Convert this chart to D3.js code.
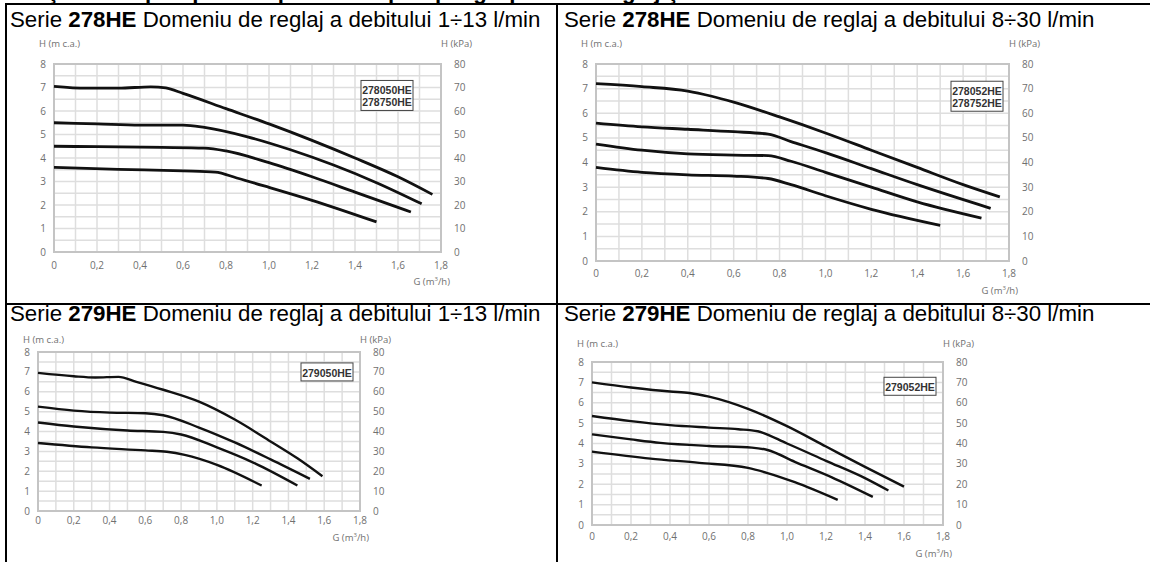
<!DOCTYPE html>
<html>
<head>
<meta charset="utf-8">
<script src="https://cdn.jsdelivr.net/npm/d3@7"></script>
<style>
  body { margin: 0; background: #fff; }
  svg { display: block; }
  .tick { font-family: "Open Sans", sans-serif; font-size: 10px; fill: #707070; }
  .unit { font-family: "Open Sans", sans-serif; font-size: 9.5px; fill: #707070; }
  .title { font-family: "Liberation Sans", Arial, sans-serif; font-size: 22.3px; fill: #000; }
  .model { font-family: "Liberation Sans Narrow", "Liberation Sans", sans-serif; font-size: 10.5px; font-weight: bold; fill: #333; }
</style>
</head>
<body>
<div id="chart"></div>
<script>
(function () {

  const width = 1150
  const height = 562

  // axis ticks
  const flowTicks = [0, 0.2, 0.4, 0.6, 0.8, 1.0, 1.2, 1.4, 1.6, 1.8]
  const headTicks = [0, 1, 2, 3, 4, 5, 6, 7, 8]
  const kpaTicks = [0, 10, 20, 30, 40, 50, 60, 70, 80]

  // cell titles
  const seriesNames = ["278HE", "278HE", "279HE", "279HE"]
  const flowRanges = ["1÷13", "8÷30", "1÷13", "8÷30"]

  // model boxes
  const models278050 = ["278050HE", "278750HE"]
  const models278052 = ["278052HE", "278752HE"]
  const models279050 = ["279050HE"]
  const models279052 = ["279052HE"]

  // pump curves, [G m3/h, H m c.a.], highest speed first
  const curves278050 = [
    [[0,7.05],[0.15,6.97],[0.3,6.97],[0.45,7.03],[0.52,6.98],[0.6,6.75],[0.8,6.1],[1.0,5.45],[1.2,4.75],[1.4,4.0],[1.6,3.2],[1.76,2.45]],
    [[0,5.5],[0.2,5.45],[0.4,5.4],[0.6,5.4],[0.7,5.3],[0.9,4.9],[1.1,4.35],[1.3,3.7],[1.5,2.95],[1.71,2.05]],
    [[0,4.5],[0.2,4.48],[0.5,4.45],[0.7,4.42],[0.8,4.3],[1.0,3.8],[1.2,3.2],[1.4,2.55],[1.66,1.7]],
    [[0,3.6],[0.3,3.52],[0.6,3.45],[0.75,3.4],[0.85,3.15],[1.0,2.75],[1.2,2.2],[1.5,1.28]]
  ]
  const curves278052 = [
    [[0,7.2],[0.2,7.08],[0.4,6.9],[0.5,6.7],[0.6,6.45],[0.8,5.85],[1.0,5.2],[1.2,4.5],[1.4,3.8],[1.6,3.1],[1.76,2.6]],
    [[0,5.6],[0.2,5.45],[0.4,5.35],[0.6,5.25],[0.75,5.15],[0.85,4.85],[1.0,4.4],[1.2,3.75],[1.4,3.1],[1.72,2.14]],
    [[0,4.75],[0.2,4.5],[0.4,4.35],[0.6,4.3],[0.75,4.28],[0.85,4.05],[1.0,3.6],[1.2,3.0],[1.4,2.4],[1.68,1.74]],
    [[0,3.8],[0.2,3.6],[0.4,3.5],[0.6,3.45],[0.75,3.35],[0.85,3.1],[1.0,2.65],[1.2,2.1],[1.5,1.45]]
  ]
  const curves279050 = [
    [[0,6.95],[0.2,6.78],[0.32,6.72],[0.45,6.75],[0.55,6.5],[0.7,6.1],[0.9,5.5],[1.1,4.6],[1.3,3.5],[1.45,2.65],[1.59,1.75]],
    [[0,5.25],[0.2,5.05],[0.4,4.95],[0.6,4.92],[0.7,4.82],[0.9,4.2],[1.1,3.45],[1.3,2.6],[1.52,1.62]],
    [[0,4.45],[0.2,4.25],[0.5,4.05],[0.7,3.98],[0.8,3.85],[1.0,3.2],[1.2,2.45],[1.45,1.28]],
    [[0,3.42],[0.3,3.2],[0.6,3.05],[0.72,2.98],[0.82,2.82],[1.0,2.32],[1.25,1.28]]
  ]
  const curves279052 = [
    [[0,7.0],[0.2,6.75],[0.4,6.55],[0.5,6.48],[0.6,6.3],[0.8,5.7],[1.0,4.85],[1.2,3.85],[1.4,2.85],[1.6,1.88]],
    [[0,5.35],[0.2,5.1],[0.4,4.9],[0.6,4.78],[0.75,4.7],[0.85,4.6],[1.0,4.0],[1.2,3.15],[1.4,2.3],[1.52,1.69]],
    [[0,4.45],[0.2,4.2],[0.35,4.03],[0.6,3.88],[0.82,3.8],[0.9,3.68],[1.04,3.1],[1.23,2.34],[1.44,1.38]],
    [[0,3.6],[0.3,3.26],[0.55,3.05],[0.8,2.8],[0.9,2.55],[1.04,2.1],[1.26,1.23]]
  ]

  // panel placement
  const panels = [
    { curves: curves278050, models: models278050, x0: 54, x1: 441, y0: 64, y1: 252, lw: 2.8, inset: 28, box: 7.3,
      hOff: 17, xlOff: 17, gOff: 33, tx: 10, ty: 27 },
    { curves: curves278052, models: models278052, x0: 596, x1: 1009, y0: 64, y1: 261, lw: 2.8, inset: 6, box: 7.3,
      hOff: 17, xlOff: 16, gOff: 33, tx: 564, ty: 27 },
    { curves: curves279050, models: models279050, x0: 38, x1: 360, y0: 352, y1: 511, lw: 2.4, inset: 7, box: 7.45,
      hOff: 9, xlOff: 13, gOff: 30, tx: 10, ty: 321 },
    { curves: curves279052, models: models279052, x0: 592, x1: 943, y0: 362, y1: 525, lw: 2.4, inset: 7, box: 7.25,
      hOff: 15, xlOff: 15, gOff: 32, tx: 564, ty: 321 }
  ]

  const svg = d3.select("#chart").append("svg")
      .attr("width", width)
      .attr("height", height)

  // heading of the page above, cut off by the window
  svg.append("text")
      .attr("class", "title")
      .attr("x", 10)
      .attr("y", -1)
      .style("font-weight", "bold")
      .text("Înălţimea de pompare disponibilă a pompei grupului de reglaj şi amestec")

  panels.forEach((p, i) => {
    const x = d3.scaleLinear().domain([0, 1.8]).range([p.x0, p.x1])
    const y = d3.scaleLinear().domain([0, 8]).range([p.y1, p.y0])
    const yk = d3.scaleLinear().domain([0, 80]).range([p.y1, p.y0])
    const g = svg.append("g")

    // title
    const t = g.append("text").attr("class", "title").attr("x", p.tx).attr("y", p.ty)
    t.append("tspan").text("Serie ")
    t.append("tspan").style("font-weight", "bold").text(seriesNames[i])
    t.append("tspan").text(" Domeniu de reglaj a debitului " + flowRanges[i] + " l/min")

    // grid
    g.selectAll(".vg").data(x.ticks(18).slice(1, -1))
      .join("line")
      .attr("x1", d => x(d)).attr("x2", d => x(d))
      .attr("y1", p.y0).attr("y2", p.y1)
      .attr("stroke", "#dedede").attr("stroke-width", 1.5)
    g.selectAll(".hg").data(y.ticks(16).slice(1, -1))
      .join("line")
      .attr("x1", p.x0).attr("x2", p.x1)
      .attr("y1", d => y(d)).attr("y2", d => y(d))
      .attr("stroke", "#dedede").attr("stroke-width", 1.5)
    g.append("rect")
      .attr("x", p.x0).attr("y", p.y0)
      .attr("width", p.x1 - p.x0).attr("height", p.y1 - p.y0)
      .attr("fill", "none").attr("stroke", "#c4c4c4").attr("stroke-width", 2)

    // tick labels
    g.selectAll(".yl").data(headTicks)
      .join("text").attr("class", "tick")
      .attr("x", p.x0 - 8).attr("y", d => y(d)).attr("dy", "0.35em")
      .attr("text-anchor", "end")
      .text(d => d)
    g.selectAll(".kl").data(kpaTicks)
      .join("text").attr("class", "tick")
      .attr("x", p.x1 + 13).attr("y", d => yk(d)).attr("dy", "0.35em")
      .text(d => d)
    g.selectAll(".xl").data(flowTicks)
      .join("text").attr("class", "tick")
      .attr("x", d => x(d)).attr("y", p.y1 + p.xlOff)
      .attr("text-anchor", "middle")
      .text(d => d3.format(d === 0 ? "" : ".1f")(d).replace(".", ","))

    // unit labels
    g.append("text").attr("class", "unit")
      .attr("x", p.x0 - 15).attr("y", p.y0 - p.hOff)
      .text("H (m c.a.)")
    g.append("text").attr("class", "unit")
      .attr("x", p.x1 + 31).attr("y", p.y0 - p.hOff)
      .attr("text-anchor", "end")
      .text("H (kPa)")
    const gl = g.append("text").attr("class", "unit")
      .attr("x", p.x1 + 9).attr("y", p.y1 + p.gOff)
      .attr("text-anchor", "end")
    gl.append("tspan").text("G (m")
    gl.append("tspan").attr("dy", -4).style("font-size", "6px").text("3")
    gl.append("tspan").attr("dy", 4).text("/h)")

    // curves
    const line = d3.line()
      .x(d => x(d[0]))
      .y(d => y(d[1]))
      .curve(d3.curveMonotoneX)
    g.selectAll(".curve").data(p.curves)
      .join("path")
      .attr("d", line)
      .attr("fill", "none")
      .attr("stroke", "#111")
      .attr("stroke-width", p.lw)

    // model box
    const bw = 52
    const bh = 6 + 12 * p.models.length
    const bx = p.x1 - p.inset - bw
    const by = y(p.box)
    g.append("rect")
      .attr("x", bx).attr("y", by)
      .attr("width", bw).attr("height", bh)
      .attr("fill", "#fff").attr("stroke", "#444").attr("stroke-width", 1)
    g.selectAll(".model").data(p.models)
      .join("text").attr("class", "model")
      .attr("x", bx + bw / 2).attr("y", (d, j) => by + 14 + j * 12)
      .attr("text-anchor", "middle")
      .text(d => d)
  })

  // table borders
  const border = svg.append("g").attr("stroke", "#000").attr("stroke-width", 2)
  border.append("line").attr("x1", 6).attr("x2", width).attr("y1", 4).attr("y2", 4)
  border.append("line").attr("x1", 6).attr("x2", width).attr("y1", 304).attr("y2", 304)
  border.append("line").attr("x1", 6).attr("x2", 6).attr("y1", 3).attr("y2", height)
  border.append("line").attr("x1", 557).attr("x2", 557).attr("y1", 3).attr("y2", height)

})();
</script>
</body>
</html>
